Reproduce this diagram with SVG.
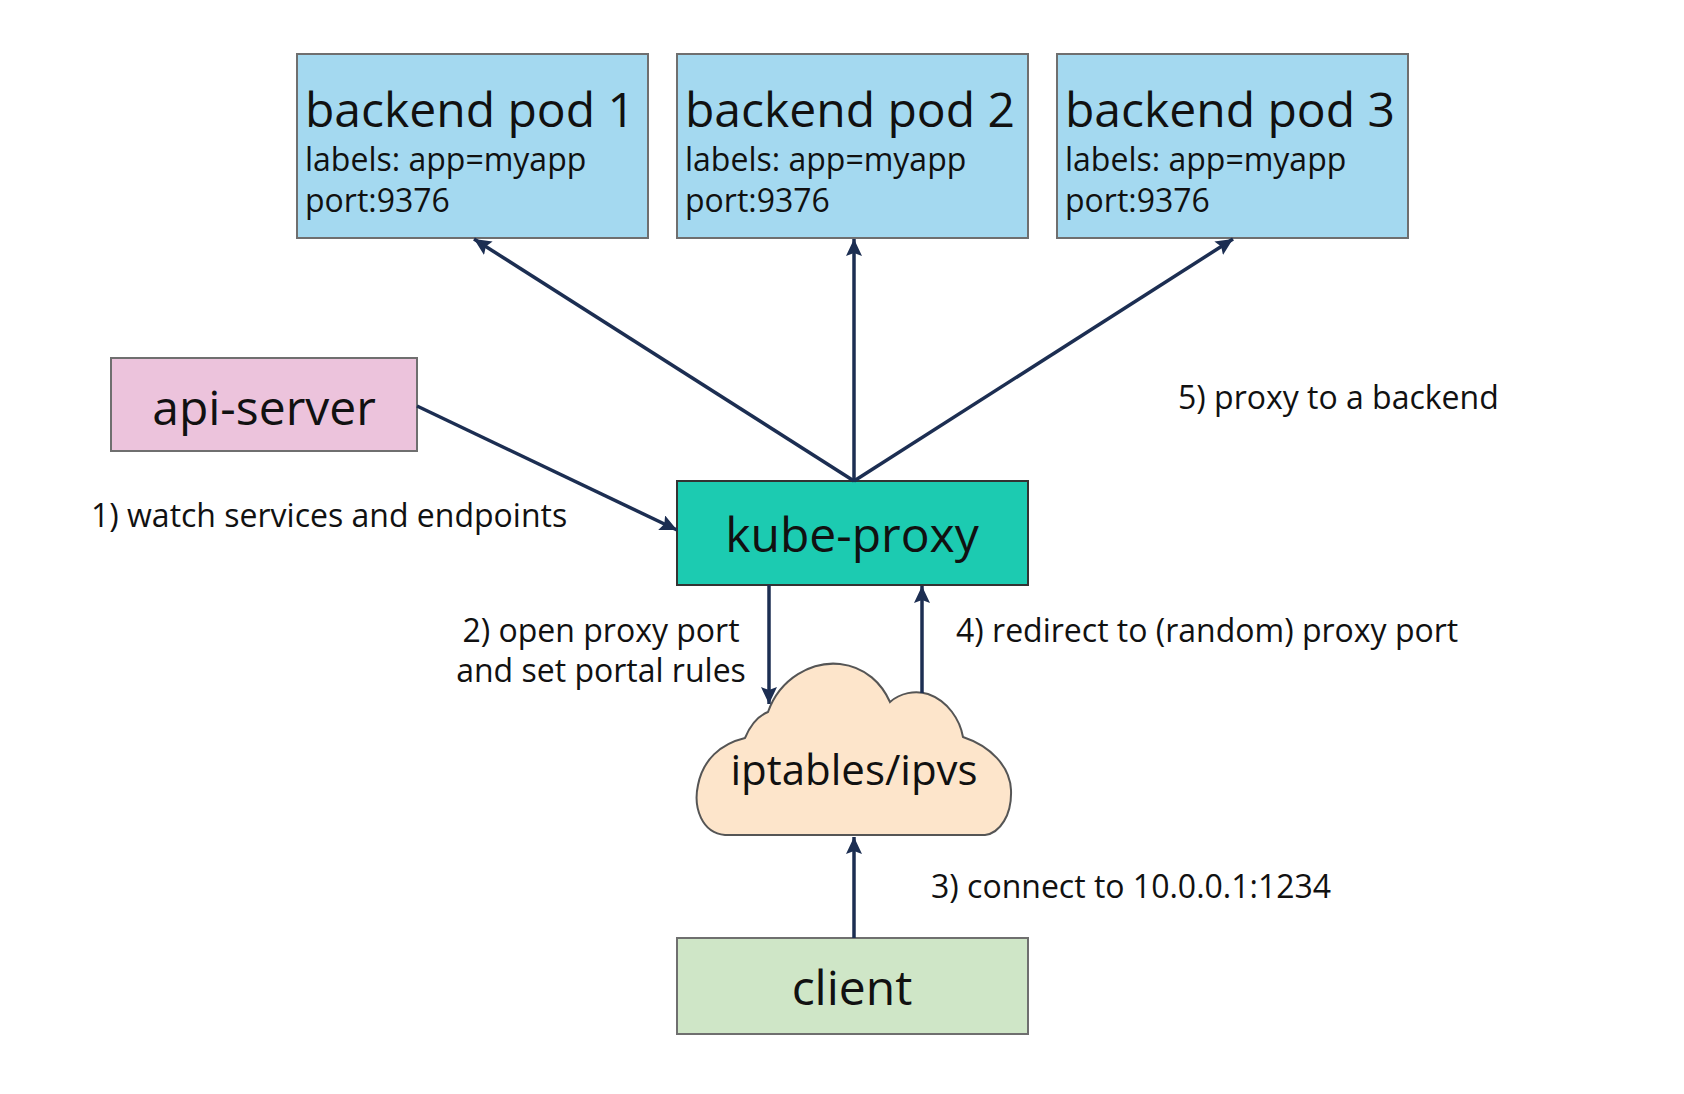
<svg xmlns="http://www.w3.org/2000/svg" width="1684" height="1094" viewBox="0 0 1684 1094">
<style>
  .t { font-family: "Open Sans", "Noto Sans", sans-serif; fill: #111; }
  .big { font-size: 48px; }
  .mid { font-size: 42px; }
  .sm { font-size: 32px; }
  .pod { fill: #a4d9f0; stroke: #6f6f6f; stroke-width: 2; }
  .conn { stroke: #1c2e52; stroke-width: 3.5; fill: none; marker-end: url(#ah); }
</style>
<defs>
  <marker id="ah" markerUnits="userSpaceOnUse" markerWidth="18" markerHeight="16" refX="17" refY="8" orient="auto">
    <path d="M0,0 L17,8 L0,16 L3,8 z" fill="#1c2e52"/>
  </marker>
</defs>
<rect width="1684" height="1094" fill="#ffffff"/>

<g id="pod1">
  <rect class="pod" x="297" y="54" width="351" height="184"/>
  <text class="t big" x="305" y="127">backend pod 1</text>
  <text class="t sm" x="305" y="171">labels: app=myapp</text>
  <text class="t sm" x="305" y="212">port:9376</text>
</g>
<g id="pod2">
  <rect class="pod" x="677" y="54" width="351" height="184"/>
  <text class="t big" x="685" y="127">backend pod 2</text>
  <text class="t sm" x="685" y="171">labels: app=myapp</text>
  <text class="t sm" x="685" y="212">port:9376</text>
</g>
<g id="pod3">
  <rect class="pod" x="1057" y="54" width="351" height="184"/>
  <text class="t big" x="1065" y="127">backend pod 3</text>
  <text class="t sm" x="1065" y="171">labels: app=myapp</text>
  <text class="t sm" x="1065" y="212">port:9376</text>
</g>
<g id="api-server">
  <rect x="111" y="358" width="306" height="93" fill="#ecc3dc" stroke="#6f6f6f" stroke-width="2"/>
  <text class="t big" x="264" y="425" text-anchor="middle">api-server</text>
</g>
<g id="kube-proxy">
  <rect x="677" y="481" width="351" height="104" fill="#1ccbb1" stroke="#333" stroke-width="2"/>
  <text class="t big" x="852" y="552" text-anchor="middle">kube-proxy</text>
</g>
<g id="iptables">
  <path d="M725 835 C702 833 693 808 698 785 C703 760 720 744 745 738 C750 726 758 716 768 712 C780 678 812 661 840 664 C866 667 882 684 890 702 C900 693 915 690 928 694 C948 701 960 720 963 737 C990 746 1010 766 1011 790 C1012 815 1000 833 985 835 Z" fill="#fde5cb" stroke="#555" stroke-width="2"/>
  <text class="t mid" x="854" y="785" text-anchor="middle">iptables/ipvs</text>
</g>
<g id="client">
  <rect x="677" y="938" width="351" height="96" fill="#cfe6c7" stroke="#6f6f6f" stroke-width="2"/>
  <text class="t big" x="852" y="1005" text-anchor="middle">client</text>
</g>

<g id="connectors">
  <line class="conn" x1="417" y1="406" x2="677" y2="530"/>
  <line class="conn" x1="854" y1="481" x2="474" y2="239"/>
  <line class="conn" x1="854" y1="481" x2="854" y2="239"/>
  <line class="conn" x1="854" y1="481" x2="1233" y2="239"/>
  <line class="conn" x1="769" y1="585" x2="769" y2="704"/>
  <line class="conn" x1="922" y1="693" x2="922" y2="586"/>
  <line class="conn" x1="854" y1="938" x2="854" y2="837"/>
</g>

<g id="labels">
  <text class="t sm" x="91" y="527">1) watch services and endpoints</text>
  <text class="t sm" x="601" y="642" text-anchor="middle">2) open proxy port</text>
  <text class="t sm" x="601" y="682" text-anchor="middle">and set portal rules</text>
  <text class="t sm" x="931" y="898">3) connect to 10.0.0.1:1234</text>
  <text class="t sm" x="956" y="642">4) redirect to (random) proxy port</text>
  <text class="t sm" x="1178" y="409">5) proxy to a backend</text>
</g>
</svg>
